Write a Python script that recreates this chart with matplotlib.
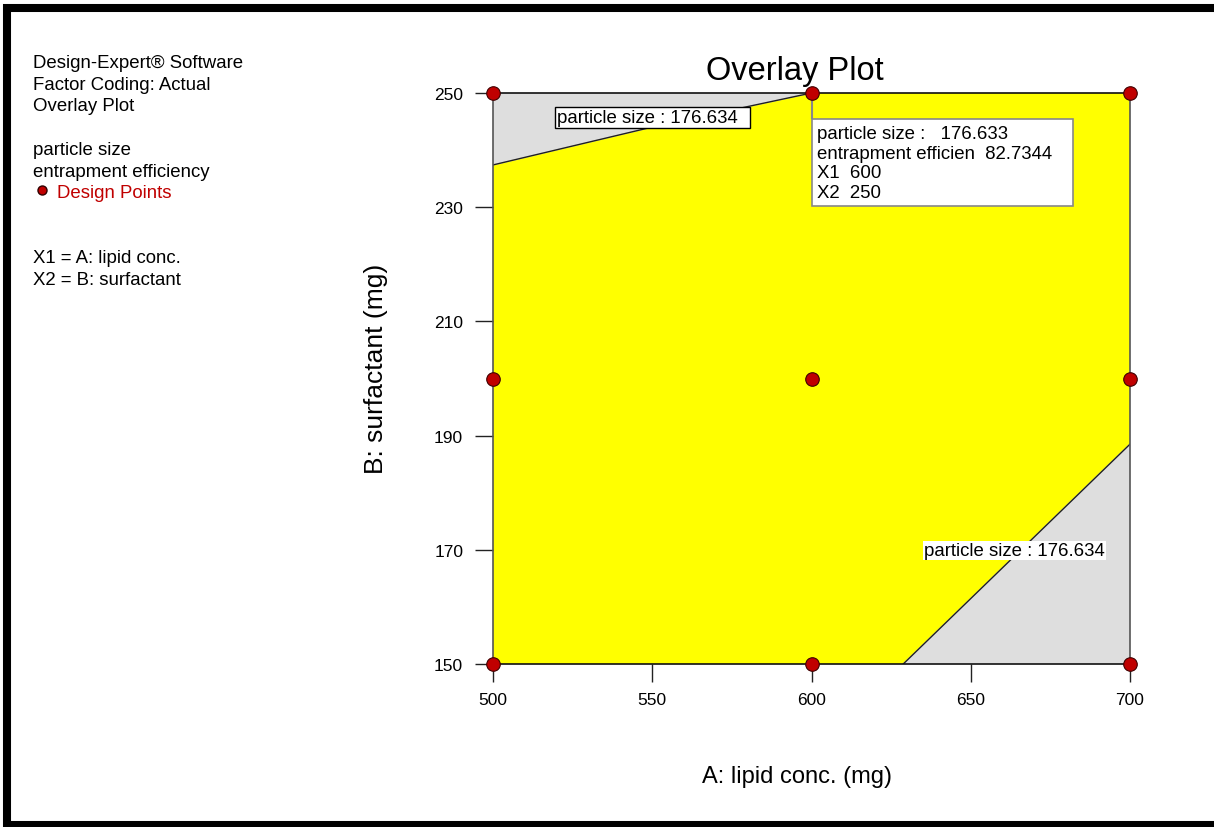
import matplotlib
matplotlib.use("Agg")
import matplotlib.pyplot as plt
from matplotlib.lines import Line2D

plt.rcParams['font.family'] = ['Liberation Sans', 'DejaVu Sans']

# factor ranges
a_range = [500, 700]
b_range = [150, 250]
x_ticks = [500, 550, 600, 650, 700]
y_ticks = [150, 170, 190, 210, 230, 250]

# design points (A: lipid conc., B: surfactant)
design_a = [500, 500, 500, 600, 600, 600, 700, 700, 700]
design_b = [150, 200, 250, 150, 200, 250, 150, 200, 250]

# particle size = 176.634 contour, top-left piece
contour1_a = [500, 552, 600]
contour1_b = [237.4, 244.3, 250]
# particle size = 176.634 contour, bottom-right piece
contour2_a = [628.8, 700]
contour2_b = [150, 188.5]

# flag point
flag_a, flag_b = 600, 250
flag_text = "particle size :   176.633\nentrapment efficien  82.7344   \nX1  600\nX2  250"

W, H = 1214, 828


def fx(px):
    return px / W


def fy(py):
    return 1 - py / H


fig = plt.figure(figsize=(W / 100, H / 100), dpi=100)
ax = fig.add_axes([fx(493), fy(665), 637 / W, 571 / H])

# yellow design space, gray areas outside the criteria
ax.fill([a_range[0], a_range[1], a_range[1], a_range[0]],
        [b_range[0], b_range[0], b_range[1], b_range[1]],
        color='#ffff00', zorder=1)
ax.fill(contour1_a + [a_range[0]], contour1_b + [b_range[1]],
        color='#dedede', zorder=2)
ax.fill(contour2_a + [a_range[1]], contour2_b + [b_range[0]],
        color='#dedede', zorder=2)
ax.plot(contour1_a, contour1_b, color='#202020', lw=1, zorder=3)
ax.plot(contour2_a, contour2_b, color='#202020', lw=1, zorder=3)

ax.set_xlim(a_range)
ax.set_ylim(b_range)
ax.set_xticks(x_ticks)
ax.set_yticks(y_ticks)
ax.tick_params(direction='out', length=13, width=1, labelsize=12.5, color='#222222')
ax.tick_params(axis='x', pad=7)
ax.tick_params(axis='y', pad=8.5)
for side in ['left', 'right']:
    ax.spines[side].set_color('#555555')
for side in ['top', 'bottom']:
    ax.spines[side].set_color('#111111')
for side in ['left', 'right', 'top', 'bottom']:
    ax.spines[side].set_linewidth(1.2)
    ax.spines[side].set_zorder(4)

# contour labels
ax.text(520.1, 244.97, "particle size : 176.634  ", fontsize=13.4, va='baseline',
        ha='left', zorder=6,
        bbox=dict(boxstyle='square,pad=0.1', facecolor='white',
                  edgecolor='black', lw=1))
ax.text(635.4, 169.1, "particle size : 176.634", fontsize=13.4, va='baseline',
        ha='left', zorder=6,
        bbox=dict(boxstyle='square,pad=0.05', facecolor='white',
                  edgecolor='none'))

# flag
ax.plot([flag_a, flag_a], [flag_b, 245.6], color='#888888', lw=1.5, zorder=6)
ax.text(601.8, 244.4, flag_text, fontsize=13.4, va='top', ha='left', zorder=6,
        linespacing=1.2,
        bbox=dict(boxstyle='square,pad=0.3', facecolor='white',
                  edgecolor='#888888', lw=1.2))

ax.scatter(design_a, design_b, s=95, color='#c00000', edgecolor='#400000',
           linewidth=0.8, zorder=8, clip_on=False)

# titles
fig.text(fx(795), fy(80), "Overlay Plot", fontsize=23.5, ha='center', va='baseline')
fig.text(fx(797), fy(783), "A: lipid conc. (mg)", fontsize=17, ha='center',
         va='baseline')
fig.text(fx(376), fy(369), "B: surfactant (mg)", fontsize=19, ha='center',
         va='center', rotation=90)

# side text
side_lines = [("Design-Expert\u00ae Software", 68), ("Factor Coding: Actual", 90),
              ("Overlay Plot", 111), ("particle size", 155),
              ("entrapment efficiency", 177), ("X1 = A: lipid conc.", 263),
              ("X2 = B: surfactant", 285)]
for txt, base in side_lines:
    fig.text(fx(33), fy(base), txt, fontsize=13.4, va='baseline', ha='left')
fig.text(fx(57), fy(198), "Design Points", fontsize=13.4, color='#c00000',
         va='baseline', ha='left')
fig.add_artist(Line2D([fx(42)], [fy(191)], marker='o', markersize=6.5,
                      color='#c00000', markeredgecolor='#300000',
                      transform=fig.transFigure))

# black frame
frame_x = [1.02, fx(7.3), fx(7.3), 1.02]
frame_y = [fy(9), fy(9), fy(826), fy(826)]
fig.add_artist(Line2D(frame_x, frame_y, color='black', lw=5.8,
                      transform=fig.transFigure, solid_joinstyle='miter'))

fig.savefig("out.png", dpi=100)
